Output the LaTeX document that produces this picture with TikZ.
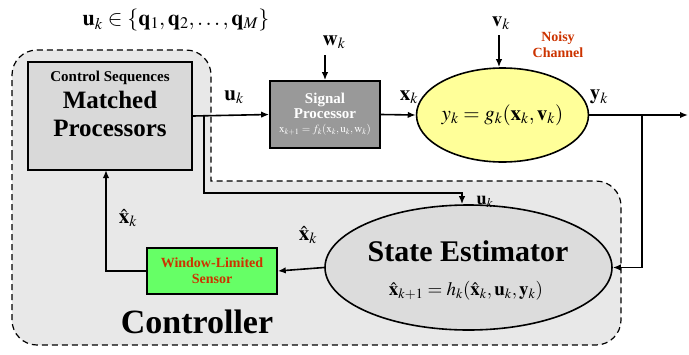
\documentclass[tikz,border=0pt]{standalone}
\usepackage{mathptmx}
\usepackage{fontspec}
\setmainfont{Liberation Serif}
\usepackage{xcolor}
\usetikzlibrary{arrows.meta,shapes,positioning,calc}
\definecolor{zonegray}{HTML}{E8E8E8}
\definecolor{boxgray}{HTML}{D9D9D9}
\definecolor{spgray}{HTML}{999999}
\definecolor{estgray}{HTML}{DCDCDC}
\definecolor{chyellow}{HTML}{FFFF99}
\definecolor{sensgreen}{HTML}{66FF66}
\definecolor{labred}{HTML}{CC3300}

\begin{document}
\begin{tikzpicture}[x=1pt,y=-1pt,>={Latex[length=8pt,width=6.5pt]},
  blk/.style={rectangle,draw,line width=1.6pt,inner sep=0pt},
  oval/.style={ellipse,draw,line width=1.6pt,inner sep=0pt},
  flow/.style={->,line width=1.6pt},
  wire/.style={line width=1.6pt},
  zone/.style={draw,dashed,dash pattern=on 6pt off 4pt,line width=1.2pt,fill=zonegray},
  sym/.style={font=\fontsize{21}{24}\selectfont},
  bigtxt/.style={font=\fontsize{25}{30}\selectfont\bfseries}]
\useasboundingbox (0,0) rectangle (689,354);

% Controller
\draw[zone] (12,181) [rounded corners=25] -- (12,50) -- (211,50) -- (211,100)
  [sharp corners] -- (211,181) -- (400,181)
  [rounded corners=25] -- (621,181) -- (621,345) -- (12,345) -- cycle;
\node[font=\fontsize{34}{40}\selectfont\bfseries] (ctrl) at (197,322) {Controller};

% Blocks
\node[blk,fill=boxgray,minimum width=164,minimum height=108] (mp) at (110,116) {};
\node[align=center,bigtxt] (mptxt) at (110,104)
  {{\fontsize{15}{18}\selectfont Control Sequences}\\[-3pt]Matched\\[-2pt]Processors};
\node[blk,fill=spgray,minimum width=110,minimum height=67,text=white,align=center,
  font=\fontsize{15}{15}\selectfont\bfseries] (sp) at (325,114.5)
  {Signal\\Processor\\[-1pt]{\fontsize{11}{11}\selectfont$\mathrm{x}_{k+1}=f_k(\mathrm{x}_k,\mathrm{u}_k,\mathrm{w}_k)$}};
\node[oval,fill=chyellow,minimum width=135,minimum height=94,font=\fontsize{21}{24}\selectfont] (ch) at (502.5,115)
  {$y_k=g_k(\mathbf{x}_k,\mathbf{v}_k)$};
\node[labred,align=center,font=\fontsize{14}{16}\selectfont\bfseries] (noisy) at (558,45) {Noisy\\Channel};
\node[oval,fill=estgray,minimum width=287,minimum height=125] (se) at (468.5,267.5) {};
\node[font=\fontsize{30}{34}\selectfont\bfseries] (setitle) at (468,251) {State Estimator};
\node[font=\fontsize{19}{22}\selectfont] (seeq) at (466,291)
  {$\hat{\mathbf{x}}_{k+1}=h_k(\hat{\mathbf{x}}_k,\mathbf{u}_k,\mathbf{y}_k)$};
\node[blk,fill=sensgreen,minimum width=130,minimum height=46,text=labred,align=center,
  font=\fontsize{14}{16}\selectfont\bfseries] (ws) at (212,271) {Window-Limited\\Sensor};

% Inputs and branch points
\coordinate (wtop) at (325,55);
\coordinate (vtop) at (499,35);
\coordinate (yout) at (688,115);
\coordinate (ybr) at (642,115);
\coordinate (ubr) at (204,116);
\coordinate (uturn) at (462,193);
\coordinate (fb) at (106,170);

% Connectors
\draw[flow] (wtop) -- (sp.north);
\draw[flow] (vtop) -- (vtop |- ch.north);
\draw[flow] (mp.east) -- (sp.west);
\draw[flow] (sp.east) -- (ch.west);
\draw[flow] (ch.east) -- (yout);
\draw[flow] (ybr) |- (se.east);
\draw[flow] (ubr) |- (uturn) -- (uturn |- se.north);
\draw[flow] (se.west) -- (ws.east);
\draw[flow] (ws.west) -| (fb);

% Labels
\node[sym,font=\fontsize{22}{26}\selectfont] (uset) at (176,20) {$\mathbf{u}_k\in\{\mathbf{q}_1,\mathbf{q}_2,\ldots,\mathbf{q}_M\}$};
\node[sym] (wlab) at (334,42) {$\mathbf{w}_k$};
\node[sym] (ulab) at (234,97) {$\mathbf{u}_k$};
\node[sym] (xlab) at (409,97) {$\mathbf{x}_k$};
\node[sym] (vlab) at (501,23) {$\mathbf{v}_k$};
\node[sym] (ylab) at (599,97) {$\mathbf{y}_k$};
\node[sym,font=\fontsize{18}{22}\selectfont] (ulow) at (485,202) {$\mathbf{u}_k$};
\node[sym] (xhr) at (308,235) {$\hat{\mathbf{x}}_k$};
\node[sym] (xhl) at (128,218) {$\hat{\mathbf{x}}_k$};
\end{tikzpicture}
\end{document}
